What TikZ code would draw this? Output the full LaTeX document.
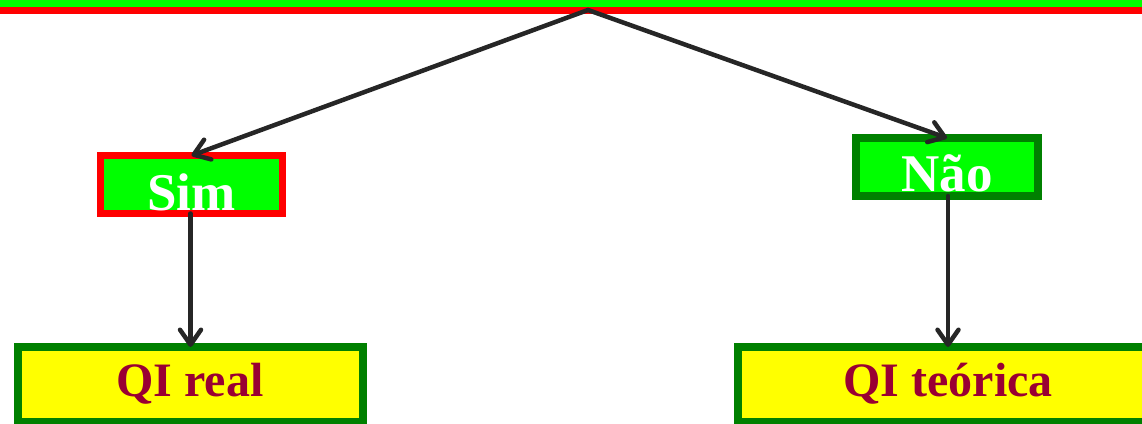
\documentclass[tikz,border=0pt]{standalone}
\usepackage{fontspec}
\setmainfont{Liberation Serif}
\usetikzlibrary{arrows.meta}
\definecolor{brightgreen}{HTML}{00FF00}
\definecolor{darkgreen}{HTML}{008000}
\definecolor{brightred}{HTML}{FF0000}
\definecolor{brightyellow}{HTML}{FFFF00}
\definecolor{wine}{HTML}{990033}
\definecolor{arrowgray}{HTML}{262626}
\begin{document}
\begin{tikzpicture}[x=1pt,y=-1pt,
  answerbox/.style={draw=brightred, fill=brightgreen, line width=7pt, inner sep=0pt, outer sep=0pt},
  answerboxg/.style={draw=darkgreen, fill=brightgreen, line width=8pt, inner sep=0pt, outer sep=0pt},
  resultbox/.style={draw=darkgreen, fill=brightyellow, line width=8pt, inner sep=0pt, outer sep=0pt},
  answertext/.style={anchor=base, inner sep=0pt, text=white, font=\bfseries\fontsize{53}{53}\selectfont},
  resulttext/.style={anchor=base, inner sep=0pt, text=wine, font=\bfseries\fontsize{48}{48}\selectfont},
  conn/.style={draw=arrowgray, line width=4.5pt, line cap=round, -{Straight Barb[length=15pt,width=21pt,line cap=round,line join=round]}}
]
\useasboundingbox (0,0) rectangle (1142,423);
% top bar (bottom of a cut-off box)
\node[answerbox, minimum width=1200pt, minimum height=40pt] (bar) at (571,-9.5) {};
\coordinate (top) at (588,10);
% boxes
\node[answerbox, minimum width=182pt, minimum height=58pt] (sim) at (191.5,184.5) {};
\node[answertext] (simtxt) at (191.5,210.5) {Sim};
\node[answerboxg, minimum width=182pt, minimum height=58pt] (nao) at (947,167) {};
\node[answertext] (naotxt) at (947,191.5) {Não};
\node[resultbox, minimum width=345pt, minimum height=75pt] (qir) at (190.5,384.5) {};
\node[resulttext] (qirtxt) at (190,396) {QI real};
\node[resultbox, minimum width=420pt, minimum height=75pt] (qit) at (948,384.5) {};
\node[resulttext] (qittxt) at (948,396) {QI teórica};
% connectors
\draw[conn] (top) -- (sim.north);
\draw[conn] (top) -- (nao.north);
\draw[conn] (qir.north |- sim.south) -- (qir.north);
\draw[conn] (qit.north |- nao.south) -- (qit.north);
\end{tikzpicture}
\end{document}
